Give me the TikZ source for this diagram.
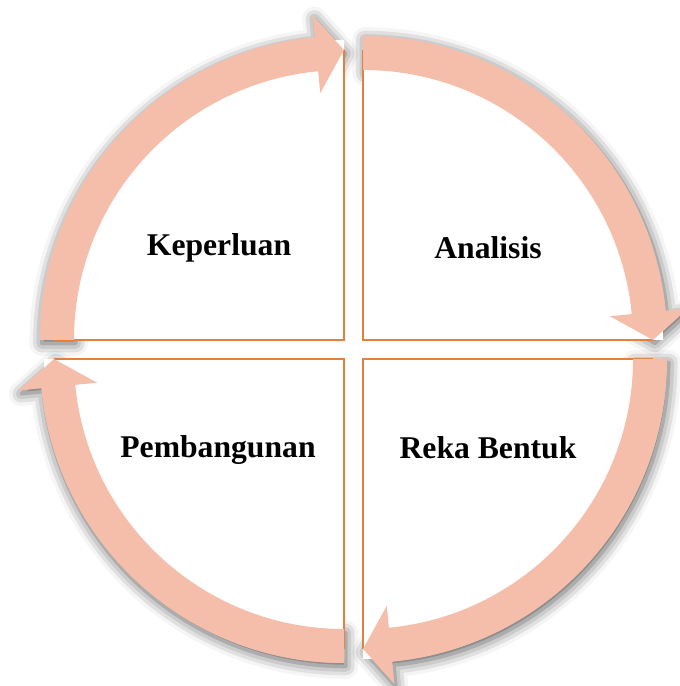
\documentclass[tikz,border=0pt]{standalone}
\usepackage{fontspec}
\setmainfont{Liberation Serif}
\usepackage{tikz}
\usetikzlibrary{shadows.blur}
\definecolor{CycSalmon}{RGB}{244,190,171}
\definecolor{CycOrange}{RGB}{226,128,62}

\begin{document}
\begin{tikzpicture}[x=0.01cm, y=0.01cm,
    phase/.style={font=\fontsize{9}{11}\selectfont\bfseries, text=black}]
  \useasboundingbox (0,0) rectangle (680,686);
  % three passes: shadow, white quarter, arrow band
  \foreach \pass in {0,1,2} {
    \foreach \cx/\cy/\a in {344/346/180, 363/346/90, 363/327/0, 344/327/270} {
      \pgfmathsetmacro{\e}{\a-90}
      \pgfmathsetmacro{\h}{\a-84.5}
      \begin{scope}[shift={(\cx,\cy)}]
        \ifnum\pass=0
          \fill[CycSalmon, blur shadow={shadow xshift=0.5pt, shadow yshift=-1pt,
                shadow blur radius=3.5pt, shadow opacity=65}]
            (\a:304) arc[start angle=\a, end angle=\h, radius=304]
            -- (\h:326) -- (\e:290) -- (\h:248) -- (\h:270)
            arc[start angle=\h, end angle=\a, radius=270] -- cycle;
        \fi
        \ifnum\pass=1
          \fill[white] (0,0) -- (\a:300) arc[start angle=\a, end angle=\e, radius=300] -- cycle;
          \draw[CycOrange, line width=0.7pt] (\a:290) -- (0,0) -- (\e:290);
        \fi
        \ifnum\pass=2
          \fill[CycSalmon]
            (\a:304) arc[start angle=\a, end angle=\h, radius=304]
            -- (\h:326) -- (\e:290) -- (\h:248) -- (\h:270)
            arc[start angle=\h, end angle=\a, radius=270] -- cycle;
        \fi
      \end{scope}
    }
  }
  \node[phase] (keperluan)   at (219,438) {Keperluan};
  \node[phase] (analisis)    at (488,438) {Analisis};
  \node[phase] (pembangunan) at (218,236) {Pembangunan};
  \node[phase] (rekabentuk)  at (488,238) {Reka Bentuk};
\end{tikzpicture}
\end{document}
